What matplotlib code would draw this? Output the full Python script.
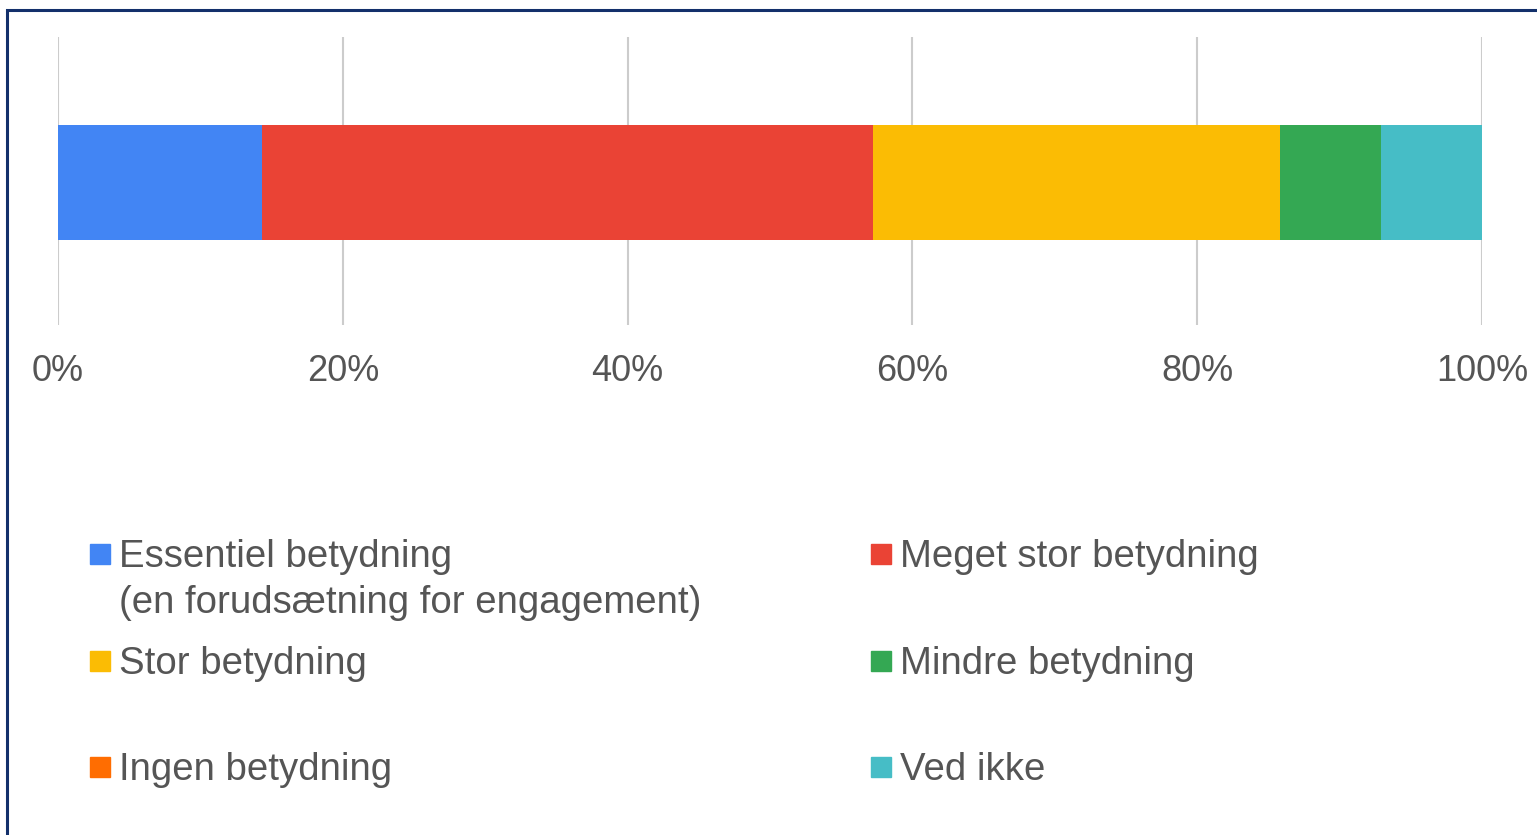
import matplotlib
matplotlib.use('Agg')
from matplotlib import pyplot as plt
from matplotlib.patches import Rectangle
from matplotlib.ticker import PercentFormatter

plt.rcParams['font.family'] = ['Liberation Sans', 'DejaVu Sans']

labels = ['Essentiel betydning\n(en forudsætning for engagement)',
          'Meget stor betydning',
          'Stor betydning',
          'Mindre betydning',
          'Ingen betydning',
          'Ved ikke']
values = [14.3, 42.9, 28.6, 7.1, 0.0, 7.1]
colors = ['#4285F4', '#EA4335', '#FBBC04', '#34A853', '#FF6D01', '#46BDC6']
ticks = [0, 20, 40, 60, 80, 100]

W, H = 1537, 835
fig = plt.figure(figsize=(W / 100, H / 100), dpi=100)

# axes placed in pixel terms of the reference
ax = fig.add_axes([58 / W, 1 - 325 / H, 1424 / W, 288 / H])

left = 0
for v, c in zip(values, colors):
    ax.barh(-0.005, v, left=left, height=0.4, color=c, zorder=3)
    left += v

ax.set_xlim(0, 100)
ax.set_ylim(-0.5, 0.5)
ax.set_xticks(ticks)
ax.xaxis.set_major_formatter(PercentFormatter(decimals=0))
ax.set_yticks([])
ax.grid(axis='x', color='#cccccc', linewidth=1.5, zorder=0)
for s in ax.spines.values():
    s.set_visible(False)
ax.tick_params(axis='x', length=0, pad=21, labelsize=26, labelcolor='#555555')

# legend drawn by hand, two columns
col_x = [90, 871]
row_y = [554, 661, 767]
for i, (lab, c) in enumerate(zip(labels, colors)):
    x = col_x[i % 2]
    y = row_y[i // 2]
    fig.patches.append(Rectangle((x / W, 1 - (y + 10) / H), 20 / W, 20 / H,
                                 transform=fig.transFigure, color=c))
    for k, line in enumerate(lab.split('\n')):
        fig.text((x + 29) / W, 1 - (y + 13 + 46 * k) / H, line, fontsize=27.6,
                 color='#555555', va='baseline', ha='left')

# frame around the chart, open at right and bottom
fig.patches.append(Rectangle((7 / W, -0.1), 1.2, 1.1 - 10 / H, transform=fig.transFigure,
                             fill=False, edgecolor='#13306b', linewidth=2.2))

fig.savefig('out.png', dpi=100)
